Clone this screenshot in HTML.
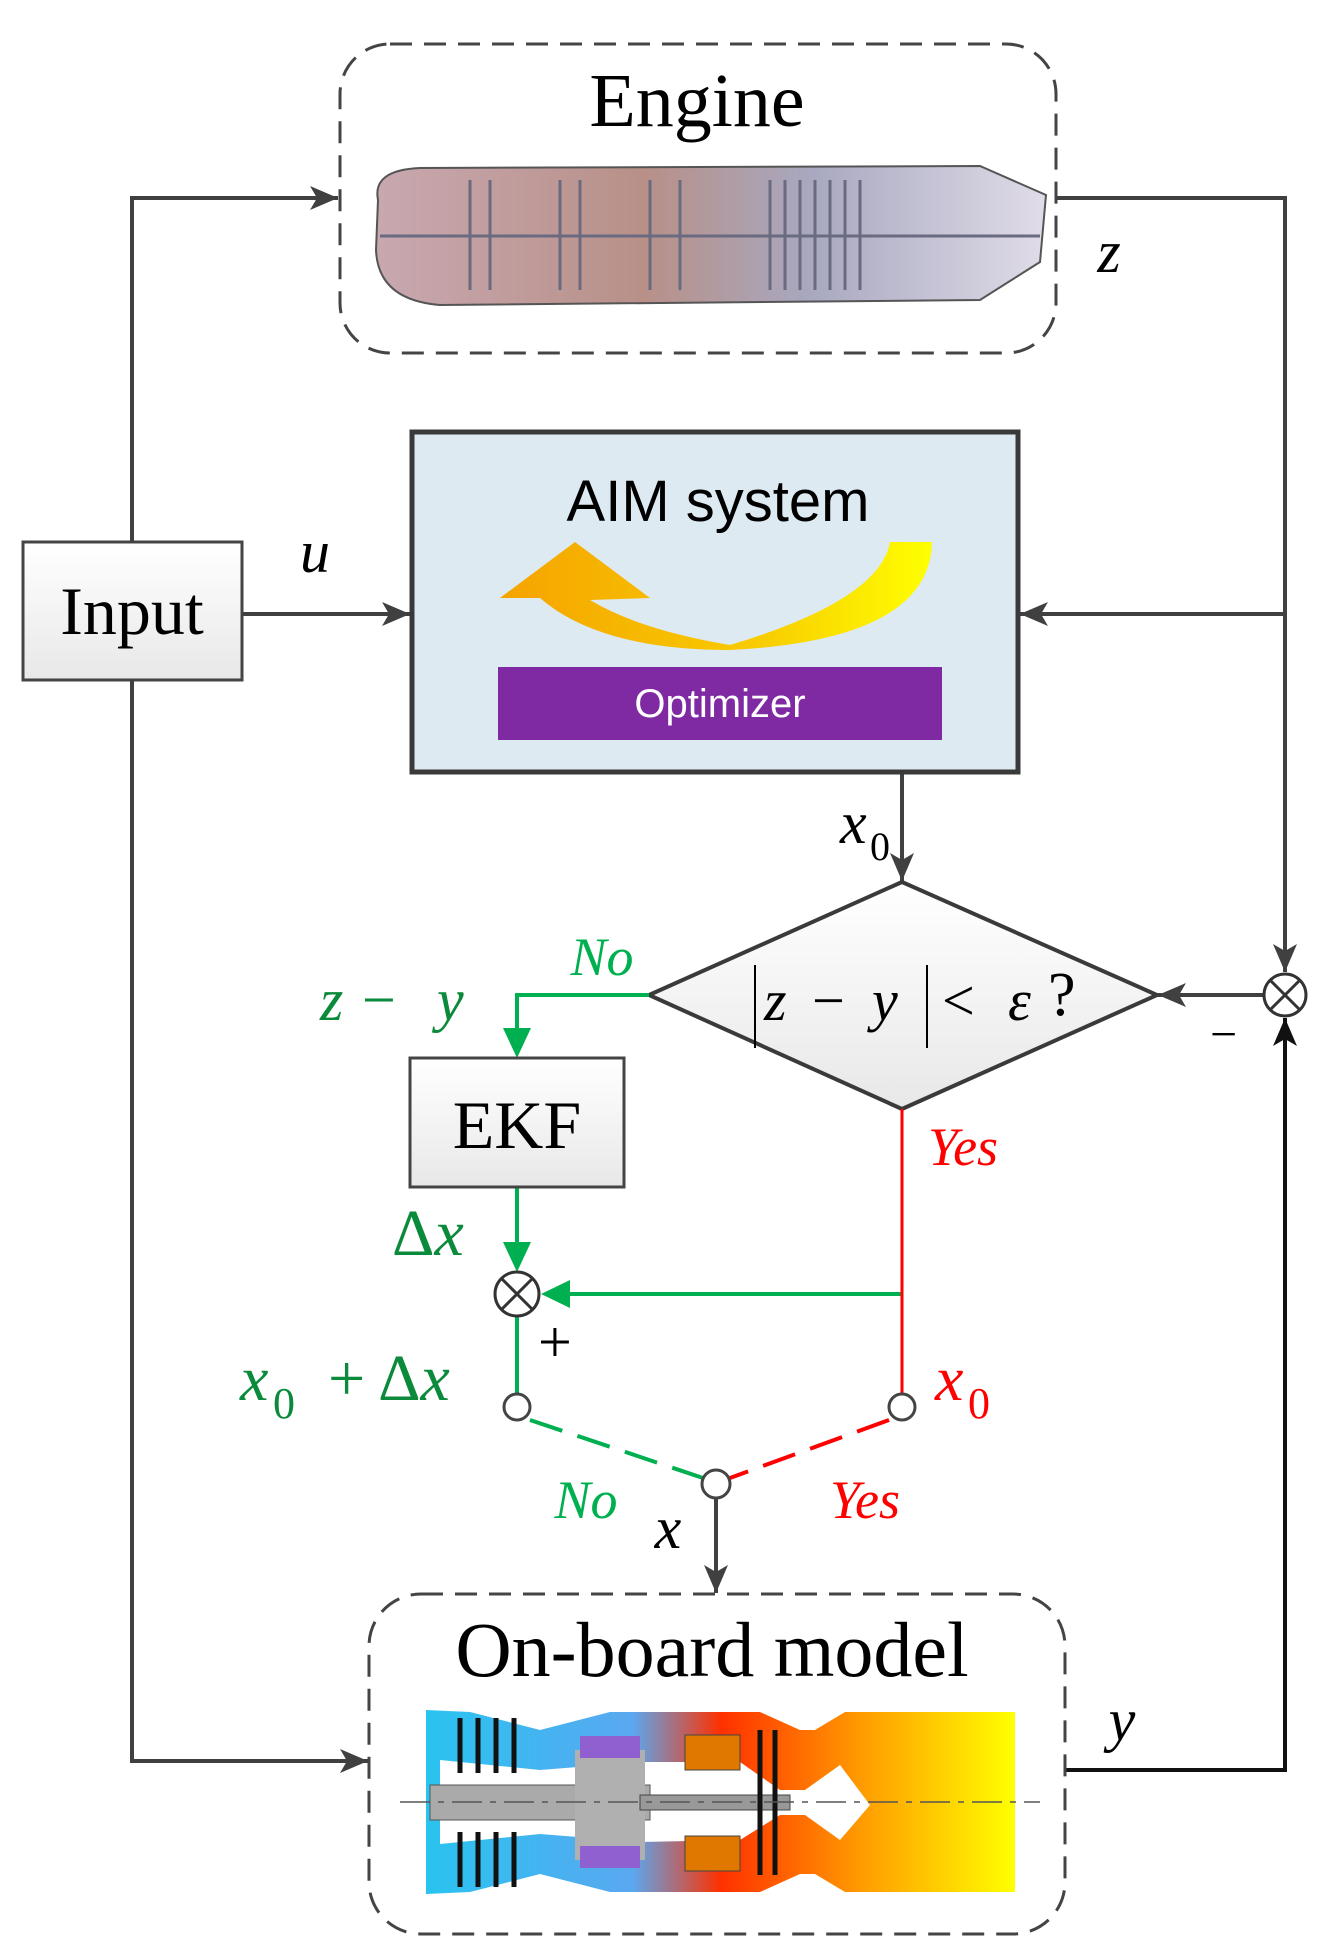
<!DOCTYPE html>
<html><head><meta charset="utf-8"><style>
html,body{margin:0;padding:0;background:#fff;}
svg{display:block;}
.s{font-family:"Liberation Serif",serif;}
.i{font-family:"Liberation Serif",serif;font-style:italic;}
</style></head><body>
<svg width="1323" height="1959" viewBox="0 0 1323 1959" xmlns="http://www.w3.org/2000/svg">
<defs>
<marker id="ak" markerWidth="28" markerHeight="24" refX="10" refY="5" orient="auto" markerUnits="userSpaceOnUse" viewBox="0 0 10 10" preserveAspectRatio="none"><path d="M0,0 L10,5 L0,10 L2.5,5 Z" fill="#404040"/></marker>
<marker id="akb" markerWidth="28" markerHeight="24" refX="10" refY="5" orient="auto" markerUnits="userSpaceOnUse" viewBox="0 0 10 10" preserveAspectRatio="none"><path d="M0,0 L10,5 L0,10 L2.5,5 Z" fill="#111"/></marker>
<linearGradient id="arw" x1="0" x2="1" y1="0" y2="0"><stop offset="0" stop-color="#f5a300"/><stop offset="0.6" stop-color="#f8cc00"/><stop offset="1" stop-color="#ffff00"/></linearGradient>
<linearGradient id="gr" x1="0" x2="0" y1="0" y2="1"><stop offset="0" stop-color="#fff"/><stop offset="1" stop-color="#e8e8e8"/></linearGradient>
<linearGradient id="ob" x1="0" x2="1"><stop offset="0" stop-color="#29c3f0"/><stop offset="0.35" stop-color="#5aa8f0"/><stop offset="0.5" stop-color="#ff3000"/><stop offset="0.75" stop-color="#ffa000"/><stop offset="1" stop-color="#ffff00"/></linearGradient>
<linearGradient id="eg" x1="0" x2="1"><stop offset="0" stop-color="#c8a8b0"/><stop offset="0.4" stop-color="#b89088"/><stop offset="0.65" stop-color="#a8a8c0"/><stop offset="1" stop-color="#e0dce8"/></linearGradient>
</defs>

<!-- Engine box -->
<rect x="340" y="44" width="716" height="309" rx="50" fill="none" stroke="#444" stroke-width="3" stroke-dasharray="22,12"/>
<text x="697" y="126" class="s" font-size="76" text-anchor="middle">Engine</text>
<path d="M378,200 Q372,170 420,168 L980,166 L1046,195 L1040,262 L980,300 L440,305 Q378,300 376,250 Z" fill="url(#eg)" stroke="#555" stroke-width="2"/>
<g stroke="#6a6a80" stroke-width="3" fill="none">
<path d="M770,180 v110 M785,180 v110 M800,180 v110 M815,180 v110 M830,180 v110 M845,180 v110 M860,180 v110"/>
<path d="M470,180 v110 M490,180 v110 M560,180 v110 M580,180 v110 M650,180 v110 M680,180 v110"/>
<path d="M380,236 h660"/>
</g>

<!-- Input -->
<rect x="23" y="542" width="219" height="138" fill="url(#gr)" stroke="#444" stroke-width="3"/>
<text x="132" y="634" class="s" font-size="68" text-anchor="middle">Input</text>

<g stroke="#404040" stroke-width="4" fill="none">
<path d="M132,542 V198 H338" marker-end="url(#ak)"/>
<path d="M242,614 H410" marker-end="url(#ak)"/>
<path d="M1056,198 H1285 V972" marker-end="url(#ak)"/>
<path d="M1285,614 H1020" marker-end="url(#ak)"/>
<path d="M902,772 V881" marker-end="url(#ak)"/>
<path d="M1263,995 H1158" marker-end="url(#ak)"/>
<path d="M132,680 V1761 H368" marker-end="url(#ak)"/>
<path d="M716,1498 V1593" marker-end="url(#ak)"/>
</g>
<path d="M1065,1770 H1285 V1018" fill="none" stroke="#111" stroke-width="4" marker-end="url(#akb)"/>

<text x="1109" y="272" class="i" font-size="60" text-anchor="middle">z</text>
<text x="315" y="572" class="i" font-size="60" text-anchor="middle">u</text>

<!-- AIM -->
<rect x="412" y="432" width="606" height="340" fill="#deeaf2" stroke="#3a3a3a" stroke-width="5"/>
<text x="718" y="521" font-family="Liberation Sans,sans-serif" font-size="58" text-anchor="middle">AIM system</text>
<path d="M932,542 L890,542 Q880,600 730,645 Q640,630 590,600 L650,598 L575,542 L500,598 L540,598 Q600,650 730,650 Q930,640 932,542 Z" fill="url(#arw)"/>
<rect x="498" y="667" width="444" height="73" fill="#7f2aa2"/>
<text x="720" y="717" font-family="Liberation Sans,sans-serif" font-size="40" fill="#fff" text-anchor="middle">Optimizer</text>

<text x="840" y="843" class="i" font-size="60">x</text><text x="870" y="860" class="s" font-size="40">0</text>

<!-- Diamond -->
<polygon points="902,882 1157,995 902,1109 649,995" fill="url(#gr)" stroke="#3a3a3a" stroke-width="4"/>
<line x1="755" y1="965" x2="755" y2="1048" stroke="#000" stroke-width="2"/>
<line x1="927" y1="965" x2="927" y2="1048" stroke="#000" stroke-width="2"/>
<text x="764" y="1020" class="i" font-size="58">z</text>
<text x="812" y="1020" class="s" font-size="58">−</text>
<text x="872" y="1020" class="i" font-size="58">y</text>
<text x="942" y="1020" class="s" font-size="58">&lt;</text>
<text x="1008" y="1020" class="i" font-size="58">ε</text>
<text x="1048" y="1015" class="s" font-size="62">?</text>

<!-- summing circle right -->
<g stroke="#333" stroke-width="3" fill="#fff">
<circle cx="1285" cy="995" r="21"/>
<path d="M1270,980 L1300,1010 M1300,980 L1270,1010" fill="none"/>
</g>
<text x="1210" y="1050" class="s" font-size="48">−</text>

<!-- green path -->
<g stroke="#00b050" stroke-width="4" fill="none">
<path d="M649,995 H517 V1030"/>
<path d="M517,1187 V1250"/>
<path d="M902,1294 H565"/>
<path d="M517,1316 V1393"/>
<path d="M530,1420 L703,1478" stroke-dasharray="34,16"/>
</g>
<path d="M503,1028 L531,1028 L517,1058 Z" fill="#00b050"/>
<path d="M503,1242 L531,1242 L517,1272 Z" fill="#00b050"/>
<path d="M570,1280 L570,1308 L541,1294 Z" fill="#00b050"/>
<text x="602" y="975" class="i" font-size="54" fill="#00b050" text-anchor="middle">No</text>
<text x="320" y="1020" class="i" font-size="60" fill="#0a8a3a">z</text>
<text x="362" y="1020" class="s" font-size="60" fill="#0a8a3a">−</text>
<text x="437" y="1020" class="i" font-size="60" fill="#0a8a3a">y</text>

<rect x="410" y="1058" width="214" height="129" fill="url(#gr)" stroke="#444" stroke-width="3"/>
<text x="517" y="1148" class="s" font-size="68" text-anchor="middle">EKF</text>
<text x="392" y="1255" class="s" font-size="66" fill="#0a8a3a">Δ<tspan font-style="italic">x</tspan></text>

<g stroke="#333" stroke-width="3" fill="#fff">
<circle cx="517" cy="1294" r="22"/>
<path d="M502,1279 L532,1309 M532,1279 L502,1309" fill="none"/>
</g>
<text x="538" y="1362" class="s" font-size="60">+</text>

<!-- red path -->
<g stroke="#ff0000" stroke-width="3" fill="none">
<path d="M902,1109 V1393"/>
<path d="M889,1420 L730,1478" stroke-dasharray="34,16" stroke-width="4"/>
</g>
<text x="928" y="1165" class="i" font-size="54" fill="#ff0000">Yes</text>
<text x="935" y="1400" class="i" font-size="64" fill="#ff0000">x</text><text x="968" y="1418" class="s" font-size="44" fill="#ff0000">0</text>
<text x="240" y="1400" class="i" font-size="64" fill="#0a8a3a">x</text><text x="273" y="1418" class="s" font-size="44" fill="#0a8a3a">0</text>
<text x="328" y="1400" class="s" font-size="66" fill="#0a8a3a">+ Δ<tspan font-style="italic">x</tspan></text>

<g stroke="#444" stroke-width="3" fill="#fff">
<circle cx="517" cy="1407" r="13"/>
<circle cx="902" cy="1407" r="13"/>
<circle cx="716" cy="1484" r="14"/>
</g>
<text x="586" y="1518" class="i" font-size="54" fill="#00b050" text-anchor="middle">No</text>
<text x="865" y="1518" class="i" font-size="54" fill="#ff0000" text-anchor="middle">Yes</text>
<text x="668" y="1548" class="i" font-size="60" text-anchor="middle">x</text>

<!-- Onboard -->
<rect x="369" y="1594" width="696" height="340" rx="52" fill="none" stroke="#444" stroke-width="3" stroke-dasharray="22,12"/>
<text x="712" y="1676" class="s" font-size="78" text-anchor="middle">On-board model</text>
<path d="M426,1710 L470,1712 L540,1730 L610,1712 L760,1712 L800,1730 L815,1730 L845,1712 L1015,1712 L1015,1892 L845,1892 L815,1874 L800,1874 L760,1892 L610,1892 L540,1874 L470,1892 L426,1894 Z" fill="url(#ob)"/>
<path d="M440,1760 L540,1770 L640,1762 L740,1762 L780,1790 L805,1790 L840,1765 L870,1805 L840,1840 L805,1815 L780,1815 L740,1840 L640,1842 L540,1834 L440,1844 Z" fill="#fff"/>
<rect x="430" y="1785" width="220" height="35" fill="#aaa" stroke="#555"/>
<rect x="575" y="1750" width="70" height="110" fill="#b0b0b0"/>
<rect x="640" y="1795" width="150" height="15" fill="#999" stroke="#444"/>
<rect x="685" y="1735" width="55" height="35" fill="#e07800" stroke="#444"/>
<rect x="685" y="1836" width="55" height="35" fill="#e07800" stroke="#444"/>
<rect x="580" y="1736" width="60" height="22" fill="#9060d0"/>
<rect x="580" y="1846" width="60" height="22" fill="#9060d0"/>
<g stroke="#111" stroke-width="5">
<path d="M460,1718 v55 M478,1718 v55 M496,1718 v55 M514,1718 v55 M460,1832 v55 M478,1832 v55 M496,1832 v55 M514,1832 v55 M760,1730 v145 M775,1730 v145"/>
</g>
<line x1="400" y1="1802" x2="1040" y2="1802" stroke="#555" stroke-width="1.5" stroke-dasharray="30,8,6,8"/>
<text x="1122" y="1740" class="i" font-size="60" text-anchor="middle">y</text>
</svg>
</body></html>
